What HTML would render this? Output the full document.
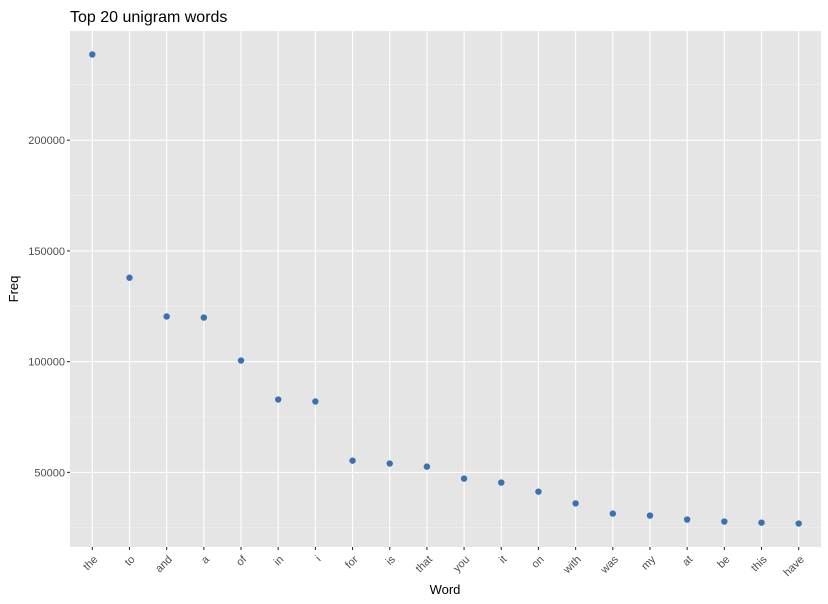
<!DOCTYPE html>
<html><head><meta charset="utf-8"><style>
body{margin:0;background:#fff;}
svg{display:block;font-family:"Liberation Sans",Arial,sans-serif;}
</style></head><body>
<svg id="chart" width="828" height="604">
<text x="70" y="22" font-size="16" fill="#000">Top 20 unigram words</text>
<rect x="70" y="31" width="751" height="516" fill="#e5e5e5"/>
<g id="grid"></g><g id="axes"></g><g id="points"></g>
<text x="445" y="594" font-size="13" text-anchor="middle">Word</text>
<text transform="translate(18,289) rotate(-90)" font-size="13" text-anchor="middle">Freq</text>
</svg>
<script>
const words=["the","to","and","a","of","in","i","for","is","that","you","it","on","with","was","my","at","be","this","have"];
const freqs=[238700,137900,120400,119900,100500,82900,82000,55300,54000,52600,47200,45400,41300,36000,31400,30500,28700,27800,27300,26900];
const yTicks=[50000,100000,150000,200000];
const L=70,R=821,T=31,B=547;
const NS="http://www.w3.org/2000/svg";
const mn=Math.min(...freqs),mx=Math.max(...freqs),pad=(mx-mn)*0.05;
const y0=mn-pad,y1=mx+pad;
const step=(R-L)/(words.length-1+1.2);
function xs(i){return L+step*(0.6+i);}
function ys(v){return B-(v-y0)/(y1-y0)*(B-T);}
function mk(tag,attrs,parent){const e=document.createElementNS(NS,tag);for(const k in attrs)e.setAttribute(k,attrs[k]);parent.appendChild(e);return e;}
const grid=document.getElementById('grid'),axes=document.getElementById('axes'),pts=document.getElementById('points');
const minors=[];for(let i=0;i<yTicks.length+1;i++){minors.push(yTicks[0]-25000+i*50000);}
minors.forEach(v=>{if(v>y0&&v<y1){const l=mk('line',{x1:L,x2:R,y1:ys(v),y2:ys(v),stroke:'#f2f2f2','stroke-width':0.6},grid);

}});
yTicks.forEach(v=>{const y=ys(v);
const l=mk('line',{x1:L,x2:R,y1:y,y2:y,stroke:'#fff','stroke-width':1.1},grid);


const t=mk('line',{x1:L-3,x2:L,y1:y,y2:y,stroke:'#333','stroke-width':1.1},axes);


const tx=mk('text',{x:L-5,y:y+4,'font-size':11,fill:'#4d4d4d','text-anchor':'end'},axes);tx.textContent=v;

});
words.forEach((w,i)=>{const x=xs(i);
const l=mk('line',{x1:x,x2:x,y1:T,y2:B,stroke:'#fff','stroke-width':1.1},grid);


const t=mk('line',{x1:x,x2:x,y1:B,y2:B+3,stroke:'#333','stroke-width':1.1},axes);


const tx=mk('text',{transform:`translate(${x+6},${B+13}) rotate(-45)`,'font-size':11,fill:'#4d4d4d','text-anchor':'end'},axes);tx.textContent=w;


const c=mk('circle',{cx:x,cy:ys(freqs[i]),r:3.2,fill:'#3a72b0'},pts);

});
</script>
</body></html>
